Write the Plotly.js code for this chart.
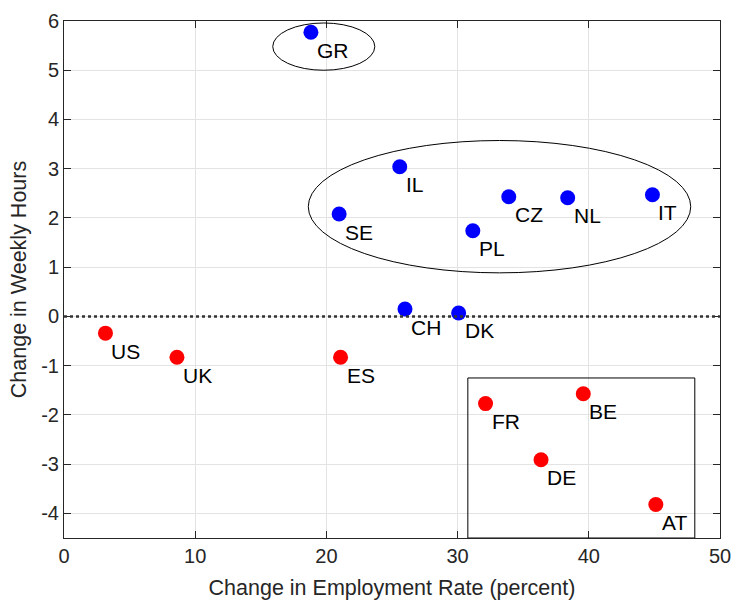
<!DOCTYPE html>
<html>
<head>
<meta charset="utf-8">
<script src="https://cdn.plot.ly/plotly-3.0.1.min.js"></script>
<style>html,body{margin:0;padding:0;background:#fff;}#chart{width:732px;height:600px;}</style>
</head>
<body>
<div id="chart"></div>
<script>
// Blue group (hours increased)
var blueCountries = ["GR","IL","SE","CZ","NL","IT","PL","CH","DK"];
var blueEmployment = [18.82, 25.59, 20.97, 33.90, 38.39, 44.85, 31.16, 25.99, 30.08];
var blueHours = [5.77, 3.04, 2.08, 2.43, 2.41, 2.47, 1.74, 0.15, 0.07];
// Red group (hours decreased)
var redCountries = ["US","UK","ES","FR","BE","DE","AT"];
var redEmployment = [3.16, 8.61, 21.08, 32.13, 39.58, 36.36, 45.11];
var redHours = [-0.34, -0.83, -0.83, -1.77, -1.57, -2.91, -3.82];

var xTicks = [0, 10, 20, 30, 40, 50];
var yTicks = [-4, -3, -2, -1, 0, 1, 2, 3, 4, 5, 6];

var FONT = "Liberation Sans, Arial, Helvetica, sans-serif";
var TXT = "#262626";

var traces = [
  {x: blueEmployment, y: blueHours, mode: "markers", type: "scatter",
   marker: {color: "#0000ff", size: 15}, hoverinfo: "skip", showlegend: false},
  {x: redEmployment, y: redHours, mode: "markers", type: "scatter",
   marker: {color: "#ff0000", size: 15}, hoverinfo: "skip", showlegend: false}
];

var annotations = [];
function addLabels(names, xs, ys) {
  for (var i = 0; i < names.length; i++) {
    annotations.push({x: xs[i], y: ys[i], xref: "x", yref: "y", text: names[i],
      showarrow: false, xanchor: "left", yanchor: "middle", xshift: 4, yshift: -18,
      font: {family: FONT, size: 21, color: "#000"}});
  }
}
addLabels(blueCountries, blueEmployment, blueHours);
addLabels(redCountries, redEmployment, redHours);

var shapes = [
  {type: "line", xref: "paper", yref: "y", x0: 0, x1: 1, y0: 0, y1: 0,
   line: {color: "#333333", width: 2.5, dash: "dot"}, layer: "above"},
  {type: "circle", xref: "x", yref: "y", x0: 15.91, x1: 23.69, y0: 5.0, y1: 5.96,
   line: {color: "#000", width: 1}},
  {type: "circle", xref: "x", yref: "y", x0: 18.62, x1: 47.77, y0: 0.885, y1: 3.573,
   line: {color: "#000", width: 1}},
  {type: "rect", xref: "x", yref: "y", x0: 30.78, x1: 48.08, y0: -4.5, y1: -1.25,
   line: {color: "#000", width: 1}}
];

var axisCommon = {
  showline: true, mirror: "ticks", linecolor: TXT, linewidth: 1,
  ticks: "inside", ticklen: 7, tickcolor: TXT, tickwidth: 1,
  showgrid: true, gridcolor: "#e3e3e3", gridwidth: 1, zeroline: false,
  tickfont: {family: FONT, size: 20, color: TXT}
};

var layout = {
  width: 732, height: 600,
  margin: {l: 64, r: 12, t: 21, b: 62},
  paper_bgcolor: "#fff", plot_bgcolor: "#fff",
  xaxis: Object.assign({}, axisCommon, {
    range: [0, 50], tickvals: xTicks, ticktext: xTicks.map(String),
    title: {text: "Change in Employment Rate (percent)", font: {family: FONT, size: 21.5, color: TXT}, standoff: 14}
  }),
  yaxis: Object.assign({}, axisCommon, {
    range: [-4.5, 6], tickvals: yTicks, ticktext: yTicks.map(String),
    title: {text: "Change in Weekly Hours", font: {family: FONT, size: 21.5, color: TXT}, standoff: 8}
  }),
  shapes: shapes,
  annotations: annotations,
  showlegend: false
};

Plotly.newPlot("chart", traces, layout, {staticPlot: true});
</script>
</body>
</html>
